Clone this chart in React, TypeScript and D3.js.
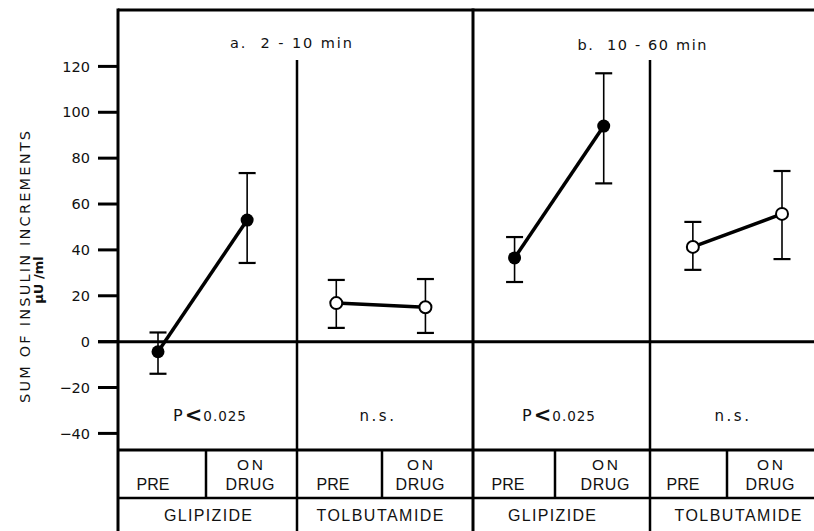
import React from "react";
import * as d3 from "d3";

// ---- data ----
const categories = [
  "a-glipizide-pre", "a-glipizide-on",
  "a-tolbutamide-pre", "a-tolbutamide-on",
  "b-glipizide-pre", "b-glipizide-on",
  "b-tolbutamide-pre", "b-tolbutamide-on",
];
const means = [-4.4, 53, 16.8, 15, 36.5, 94, 41.3, 55.7];
const upperErr = [4, 73.5, 26.9, 27.3, 45.6, 117, 52.2, 74.4];
const lowerErr = [-14, 34.3, 6, 3.8, 26, 69, 31.3, 36];
const filled = [true, true, false, false, true, true, false, false];
const yTicks = [120, 100, 80, 60, 40, 20, 0, -20, -40];
const yTickLabels = ["120", "100", "80", "60", "40", "20", "0", "\u221220", "\u221240"];
const panelTitles = ["a.  2 - 10 min", "b.  10 - 60 min"];
const significance = ["P<0.025", "n.s.", "P<0.025", "n.s."];
const drugs = ["GLIPIZIDE", "TOLBUTAMIDE", "GLIPIZIDE", "TOLBUTAMIDE"];

// ---- layout ----
const W = 814, H = 531;
const frameLeft = 118, frameTop = 10;
const mainDivider = 473;
const subDividers = [297, 650];
const subDividerTop = 60;
const tableTop = 450, tableRow = 498;
const cellDividers = [206, 382, 555, 727];
const titleX = [291, 642];
const titleW = [122, 129];
const sigX = [210, 378, 559, 733];
const drugX = [208, 380, 552, 738];
const drugW = [88, 127, 88, 127];
const preX = [153, 333, 508, 683];
const onX = [250, 420, 605, 770];
const FONT = "'DejaVu Sans', 'Liberation Sans', sans-serif";
const TABLE_FONT = "'Liberation Sans', Arial, sans-serif";

export default function App() {
  const y = d3.scaleLinear().domain([-40, 120]).range([433.4, 66.4]);
  const x = d3.scalePoint<string>().domain(categories).range([158, 782]);
  const line = d3.line<number>().x((i) => x(categories[i])!).y((i) => y(means[i]));
  const pairs = [[0, 1], [2, 3], [4, 5], [6, 7]];

  return (
    <svg width={W} height={H} style={{ position: "absolute", left: 0, top: 0, background: "#fff" }}
      fontFamily={FONT} fill="#111">
      <rect x={0} y={0} width={W} height={H} fill="#fff" />
      {/* frame */}
      <line x1={frameLeft} x2={W} y1={frameTop} y2={frameTop} stroke="#000" strokeWidth={3} />
      <line x1={frameLeft} x2={frameLeft} y1={frameTop - 1.5} y2={H} stroke="#000" strokeWidth={3} />
      <line x1={mainDivider} x2={mainDivider} y1={frameTop - 1.5} y2={H} stroke="#000" strokeWidth={3} />
      {subDividers.map((sx, i) => (
        <line key={i} x1={sx} x2={sx} y1={subDividerTop} y2={H} stroke="#000" strokeWidth={2.5} />
      ))}
      {/* zero line */}
      <line x1={98} x2={W} y1={y(0)} y2={y(0)} stroke="#000" strokeWidth={3} />
      {/* table */}
      <line x1={frameLeft} x2={W} y1={tableTop} y2={tableTop} stroke="#000" strokeWidth={3} />
      <line x1={frameLeft} x2={W} y1={tableRow} y2={tableRow} stroke="#000" strokeWidth={2.5} />
      {cellDividers.map((cx, i) => (
        <line key={i} x1={cx} x2={cx} y1={tableTop} y2={tableRow} stroke="#000" strokeWidth={2.5} />
      ))}
      {/* y ticks */}
      {yTicks.map((t, i) => (
        <g key={t}>
          <line x1={98} x2={frameLeft} y1={y(t)} y2={y(t)} stroke="#000" strokeWidth={3} />
          <text x={90} y={y(t)} dy="0.36em" textAnchor="end" fontSize={14.5}>
            {yTickLabels[i]}
          </text>
        </g>
      ))}
      {/* y label */}
      <text transform={`translate(30,267) rotate(-90)`} textAnchor="middle" fontSize={14.5}
        textLength={272} lengthAdjust="spacing">SUM OF INSULIN INCREMENTS</text>
      <text transform={`translate(43,280) rotate(-90)`} textAnchor="middle" fontSize={13}
        fontWeight="bold">
        {"\u00b5U /ml"}
      </text>
      {/* titles */}
      {panelTitles.map((t, i) => (
        <text key={i} x={titleX[i]} y={i === 0 ? 48 : 50} textAnchor="middle" fontSize={14.5}
          textLength={titleW[i]} lengthAdjust="spacing" style={{ whiteSpace: "pre" }}>{t}</text>
      ))}
      {/* significance */}
      {significance.map((s, i) => (
        s.startsWith("P") ? (
          <text key={i} x={sigX[i]} y={421} textAnchor="middle" letterSpacing={1}>
            <tspan fontSize={16}>P</tspan>
            <tspan fontSize={21} fontWeight="bold" dy={1} dx={1}>{"<"}</tspan>
            <tspan fontSize={13.5} dy={-1}>{s.slice(2)}</tspan>
          </text>
        ) : (
          <text key={i} x={sigX[i]} y={421} textAnchor="middle" fontSize={15} letterSpacing={2.5}>{s}</text>
        )
      ))}
      {/* table labels */}
      <g fontFamily={TABLE_FONT}>
        {preX.map((px, i) => (
          <text key={"p" + i} x={px} y={490} textAnchor="middle" fontSize={16} textLength={33}
            lengthAdjust="spacing">PRE</text>
        ))}
        {onX.map((ox, i) => (
          <g key={"o" + i}>
            <text x={ox} y={470} textAnchor="middle" fontSize={15.5} textLength={26} lengthAdjust="spacing">ON</text>
            <text x={ox} y={490} textAnchor="middle" fontSize={16} textLength={49} lengthAdjust="spacing">DRUG</text>
          </g>
        ))}
        {drugs.map((d, i) => (
          <text key={"d" + i} x={drugX[i]} y={521} textAnchor="middle" fontSize={16}
            textLength={drugW[i]} lengthAdjust="spacing">{d}</text>
        ))}
      </g>
      {/* error bars */}
      {categories.map((c, i) => {
        const cx = x(c)!;
        return (
          <g key={c} stroke="#000">
            <line x1={cx} x2={cx} y1={y(upperErr[i])} y2={y(lowerErr[i])} strokeWidth={1.6} />
            <line x1={cx - 8.5} x2={cx + 8.5} y1={y(upperErr[i])} y2={y(upperErr[i])} strokeWidth={2.2} />
            <line x1={cx - 8.5} x2={cx + 8.5} y1={y(lowerErr[i])} y2={y(lowerErr[i])} strokeWidth={2.2} />
          </g>
        );
      })}
      {/* lines */}
      {pairs.map((p, i) => (
        <path key={i} d={line(p) || ""} fill="none" stroke="#000" strokeWidth={3.5} />
      ))}
      {/* points */}
      {categories.map((c, i) => (
        filled[i] ? (
          <circle key={c} cx={x(c)!} cy={y(means[i])} r={6.5} fill="#000" />
        ) : (
          <circle key={c} cx={x(c)!} cy={y(means[i])} r={6} fill="#fff" stroke="#000" strokeWidth={2} />
        )
      ))}
    </svg>
  );
}
